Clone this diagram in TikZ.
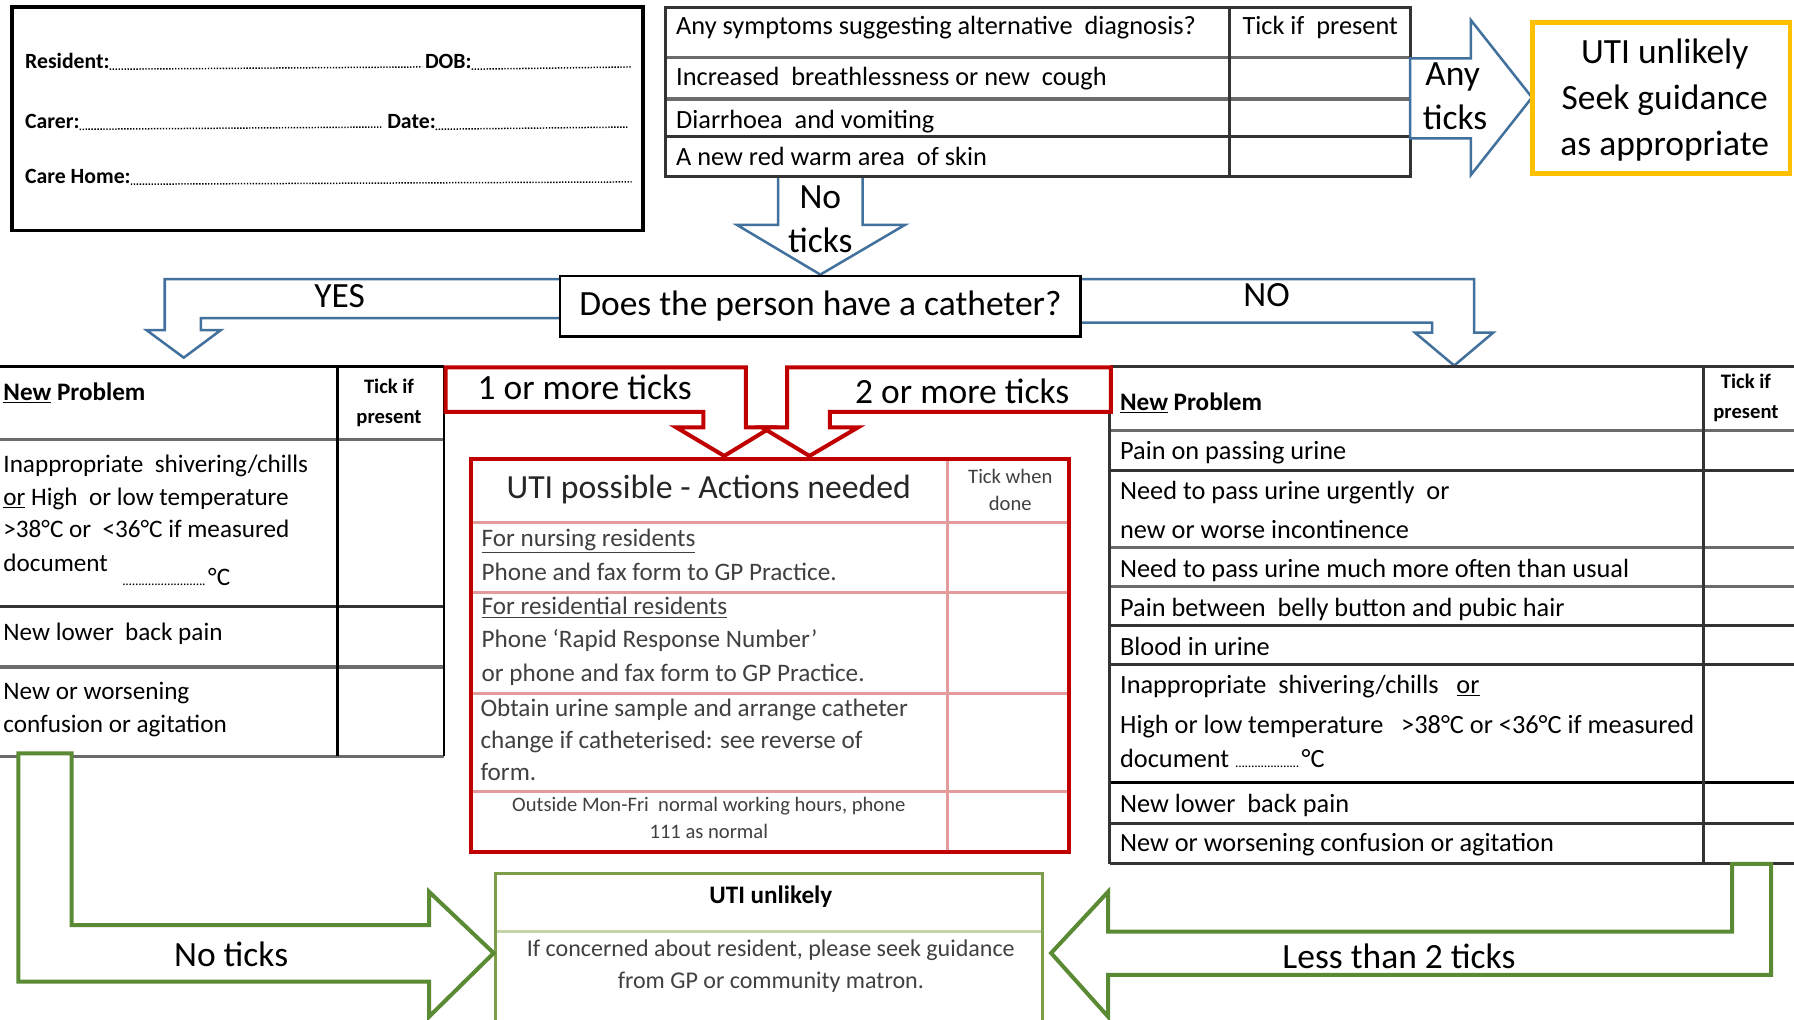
\documentclass[tikz,border=0pt]{standalone}
\usepackage{fontspec}
\setmainfont{Carlito}
\definecolor{arrowblue}{HTML}{41719C}
\definecolor{uRed}{HTML}{C00000}
\definecolor{pinkline}{HTML}{E39B9B}
\definecolor{uYellow}{HTML}{FFC000}
\definecolor{gArrow}{HTML}{5B8A35}
\definecolor{gBox}{HTML}{7E9D4A}
\definecolor{gLight}{HTML}{C5D3A8}
\definecolor{txtgray}{HTML}{404040}
\newcommand{\dotrule}[1]{\hbox to #1{\fontsize{12}{12}\selectfont\leaders\hbox to 2.8pt{\hss.\hss}\hfill}}
\begin{document}
\begin{tikzpicture}[x=1pt,y=-1pt,
 every node/.style={inner sep=0pt,outer sep=0pt},
 formtxt/.style={anchor=base west,font=\fontsize{19}{23}\selectfont\bfseries},
 dotline/.style={line width=1.3pt,dash pattern=on 1.2pt off 1.4pt},
 toptxt/.style={anchor=base west,font=\fontsize{23}{27}\selectfont},
 lefttxt/.style={anchor=base west,font=\fontsize{22}{26}\selectfont},
 righttxt/.style={anchor=base west,font=\fontsize{23}{27}\selectfont},
 headbold/.style={anchor=base west,font=\fontsize{22}{26}\selectfont\bfseries},
 tickhead/.style={anchor=base,font=\fontsize{18}{21}\selectfont\bfseries},
 biglabel/.style={anchor=base,font=\fontsize{31}{36}\selectfont},
 redtxt/.style={anchor=base west,text=txtgray,font=\fontsize{22}{26}\selectfont},
 redsmall/.style={anchor=base,text=txtgray,font=\fontsize{18}{21}\selectfont},
 greentxt/.style={anchor=base,text=txtgray,font=\fontsize{21}{25}\selectfont},
 bluearrow/.style={draw=arrowblue,line width=2.2pt,fill=white,line join=miter},
 redarrow/.style={draw=uRed,line width=3.5pt,fill=white,line join=miter},
 greenarrow/.style={draw=gArrow,line width=3.5pt,fill=white,line join=miter},
 tabedge/.style={draw=black!80,line width=2.6pt},
 tabrow/.style={draw=black!58,line width=2.8pt},
 pinkrow/.style={draw=pinkline,line width=2.6pt}]
\useasboundingbox (0,0) rectangle (1568,891);
\fill[white] (0,0) rectangle (1568,891);

% ---------- top-left form ----------
\draw[line width=3pt] (10.3,6) rectangle (562,201.6);
\node[formtxt] (res) at (22,59.5) {Resident:};
\node[formtxt] (dob) at (371.5,59.5) {DOB:};
\node[formtxt] (car) at (22,112) {Carer:};
\node[formtxt] (dat) at (338.5,112) {Date:};
\node[formtxt] (home) at (22,160) {Care Home:};
\coordinate (resE) at (369,58.5);
\coordinate (dobE) at (552,58.5);
\coordinate (carE) at (333.6,111);
\coordinate (datE) at (549,111);
\coordinate (homeE) at (552,159);
\draw[dotline] ([yshift=-1pt]res.base east) -- (resE);
\draw[dotline] ([yshift=-1pt]dob.base east) -- (dobE);
\draw[dotline] ([yshift=-1pt]car.base east) -- (carE);
\draw[dotline] ([yshift=-1pt]dat.base east) -- (datE);
\draw[dotline] ([yshift=-1pt]home.base east) -- (homeE);

% ---------- "No ticks" down arrow (under table) ----------
\path[bluearrow] (680,155) -- (680,196.5) -- (644,196.5) -- (717,240) -- (791,196.5) -- (754,196.5) -- (754,155);
\node[biglabel] (nt1) at (717,182) {No};
\node[biglabel] (nt2) at (717,221) {ticks};

% ---------- top table ----------
\draw[tabrow] (582,50) -- (1233,50) (582,86.5) -- (1233,86.5);
\draw[tabedge] (582,119.5) -- (1233,119.5);
\draw[tabedge] (1075,6.5) -- (1075,154.5);
\draw[tabedge] (582,6.5) rectangle (1233,154.5);
\node[toptxt] (q0) at (591,30) {Any symptoms suggesting alternative\ \ diagnosis?};
\node[toptxt] (q0t) at (1086,30) {Tick\ if\ \ present};
\node[toptxt] (q1) at (591,75) {Increased\ \ breathlessness\ or new\ \ cough};
\node[toptxt] (q2) at (591,112) {Diarrhoea\ \ and vomiting};
\node[toptxt] (q3) at (591,145) {A new red\ warm area\ \ of skin};

% ---------- "Any ticks" right arrow ----------
\draw[bluearrow] (1232.5,51) -- (1285.5,51) -- (1285.5,17.5) -- (1339,85.2) -- (1285.5,153) -- (1285.5,121) -- (1232.5,121) -- cycle;
\node[biglabel] (at1) at (1269.6,74.3) {Any};
\node[biglabel] (at2) at (1271.7,113.6) {ticks};

% ---------- yellow box ----------
\draw[uYellow,line width=4pt] (1339.5,19.5) rectangle (1564.5,151.6);
\node[biglabel] (y1) at (1455,55.9) {UTI unlikely};
\node[biglabel] (y2) at (1455,96.1) {Seek guidance};
\node[biglabel] (y3) at (1455,135.5) {as appropriate};

% ---------- YES / NO arrows ----------
\path[bluearrow] (492,244) -- (144,244) -- (144,288.5) -- (128,288.5) -- (160.6,312.6) -- (193,288.5) -- (175.6,288.5) -- (175.6,278) -- (492,278);
\node[biglabel] (yes) at (296.8,268.6) {YES};
\path[bluearrow] (943,244) -- (1288.5,244) -- (1288.5,290.8) -- (1305,290.8) -- (1271,319.5) -- (1236.8,290.8) -- (1251.7,290.8) -- (1251.7,282) -- (943,282);
\node[biglabel] (no) at (1107,268) {NO};

% ---------- catheter box ----------
\node[draw=black,line width=2.5pt,fill=white,minimum width=455pt,minimum height=53pt,font=\fontsize{31}{36}\selectfont] (cath) at (717,267.7) {Does the person have a catheter?};

% ---------- left table ----------
\draw[tabrow] (0,384) -- (388,384) (0,583) -- (388,583) (0,661) -- (388,661);
\draw[tabedge] (0,530) -- (388,530);
\draw[draw=black,line width=2.6pt] (0,320.5) -- (388,320.5);
\draw[draw=black,line width=2.4pt] (295,320.5) -- (295,661) (388,320.5) -- (388,661);
\node[headbold] (lh) at (3,350) {\underline{New} Problem};
\node[tickhead] (lt1) at (340,344) {Tick if};
\node[tickhead] (lt2) at (340,370) {present};
\node[lefttxt] (l1a) at (3,412.6) {Inappropriate\ \ shivering/chills};
\node[lefttxt] (l1b) at (3,441.4) {\underline{or} High\ \ or low\ temperature};
\node[lefttxt] (l1c) at (3,470) {>38°C or\ \ <36°C if measured};
\node[lefttxt] (l1d) at (3,499.7) {document};
\node[lefttxt] (l1e) at (107,511.3) {\dotrule{75pt}°C};
\node[lefttxt] (l2) at (3,559.4) {New lower\ \ back\ pain};
\node[lefttxt] (l3a) at (3,611.8) {New\ or\ worsening};
\node[lefttxt] (l3b) at (3,640.4) {confusion or agitation};

% ---------- right table ----------
\draw[tabedge] (970,410.8) -- (1568,410.8) (970,546.3) -- (1568,546.3) (970,580.4) -- (1568,580.4) (970,719.6) -- (1568,719.6);
\draw[tabrow] (970,376.5) -- (1568,376.5) (970,478.7) -- (1568,478.7) (970,512.8) -- (1568,512.8);
\draw[draw=black,line width=2.6pt] (970,684) -- (1568,684);
\draw[tabedge] (970,320) -- (1568,320) (970,755) -- (1568,755);
\draw[tabedge] (970,320) -- (970,755) (1489,320) -- (1489,755);
\node[headbold] (rh) at (979,358.4) {\underline{New} Problem};
\node[tickhead] (rt1) at (1526,339.4) {Tick if};
\node[tickhead] (rt2) at (1526,366) {present};
\node[righttxt] (r1) at (979,402) {Pain on passing urine};
\node[righttxt] (r2a) at (979,436.4) {Need\ to pass urine urgently\ \ or};
\node[righttxt] (r2b) at (979,470.5) {new or worse incontinence};
\node[righttxt] (r3) at (979,504.6) {Need\ to pass urine much\ more\ often than\ usual};
\node[righttxt] (r4) at (979,538.4) {Pain between\ \ belly button and pubic hair};
\node[righttxt] (r5) at (979,572.5) {Blood in urine};
\node[righttxt] (r6a) at (979,606) {Inappropriate\ \ shivering/chills\ \ \ \underline{or}};
\node[righttxt] (r6b) at (979,641) {High or low temperature\ \ \ >38°C or <36°C if measured};
\node[righttxt] (r6c) at (979,670.7) {document \dotrule{58pt}°C};
\node[righttxt] (r7) at (979,710.3) {New lower\ \ back pain};
\node[righttxt] (r8) at (979,744.4) {New or worsening confusion or agitation};

% ---------- red arrows ----------
\draw[redarrow] (389.5,321) -- (652,321) -- (652,373.5) -- (674,373.5) -- (633,398.5) -- (591,373.5) -- (614.7,373.5) -- (614.7,360) -- (389.5,360) -- cycle;
\draw[redarrow] (971,321) -- (688,321) -- (688,373.5) -- (666,373.5) -- (707.5,398.5) -- (750,373.5) -- (725.4,373.5) -- (725.4,360) -- (971,360) -- cycle;
\node[biglabel] (one) at (511,349.6) {1 or more ticks};
\node[biglabel] (two) at (841,352.5) {2 or more ticks};

% ---------- red table ----------
\draw[pinkrow] (411,457) -- (934,457) (411,518) -- (934,518) (411,606) -- (934,606) (411,692) -- (934,692);
\draw[pinkrow] (828,401.5) -- (828,744.5);
\draw[draw=uRed,line width=3.5pt] (411.3,401.5) rectangle (934,744.5);
\node[anchor=base,text=black!85,font=\fontsize{29.5}{33}\selectfont] (uh) at (619.5,435.6) {UTI possible - Actions needed};
\node[redsmall] (tw1) at (883,422.4) {Tick when};
\node[redsmall] (tw2) at (883,445.8) {done};
\node[redtxt] (a1) at (421,477.8) {\underline{For nursing residents}};
\node[redtxt] (a2) at (421,507) {Phone and fax form to GP Practice.};
\node[redtxt] (a3) at (421,537.5) {\underline{For residential residents}};
\node[redtxt] (a4) at (421,565.8) {Phone ‘Rapid Response Number’};
\node[redtxt] (a5) at (421,595.8) {or phone and fax form to GP Practice.};
\node[redtxt] (a6) at (420,625.8) {Obtain urine sample and arrange catheter};
\node[redtxt] (a7) at (420,654) {change if catheterised: see reverse of};
\node[redtxt] (a8) at (420,682.4) {form.};
\node[redsmall] (a9) at (619.5,709.5) {Outside\ Mon-Fri\ \ normal\ working hours, phone};
\node[redsmall] (a10) at (619.5,732.7) {111 as normal};

% ---------- green box ----------
\draw[draw=gLight,line width=2.6pt] (433,814.4) -- (911,814.4);
\draw[draw=gBox,line width=3pt] (433,896) -- (433,763.5) -- (911,763.5) -- (911,896);
\node[anchor=base,font=\fontsize{22}{26}\selectfont\bfseries] (gu) at (673.7,789.5) {UTI unlikely};
\node[greentxt] (g1) at (673.7,836.2) {If concerned about resident, please seek guidance};
\node[greentxt] (g2) at (673.7,863.8) {from GP or community matron.};

% ---------- green arrows ----------
\draw[greenarrow] (16,658.5) -- (62.7,658.5) -- (62.7,808.5) -- (375,808.5) -- (375,779.4) -- (431.5,833) -- (375,888.6) -- (375,858) -- (16,858) -- cycle;
\node[biglabel] (nt) at (202,845) {No ticks};
\draw[greenarrow] (1514,755) -- (1548,755) -- (1548,852) -- (968.5,852) -- (968.5,888.6) -- (918.7,833) -- (968.5,779.4) -- (968.5,814.3) -- (1514,814.3) -- cycle;
\node[biglabel] (lt) at (1222.7,846.3) {Less than 2 ticks};
\end{tikzpicture}
\end{document}
